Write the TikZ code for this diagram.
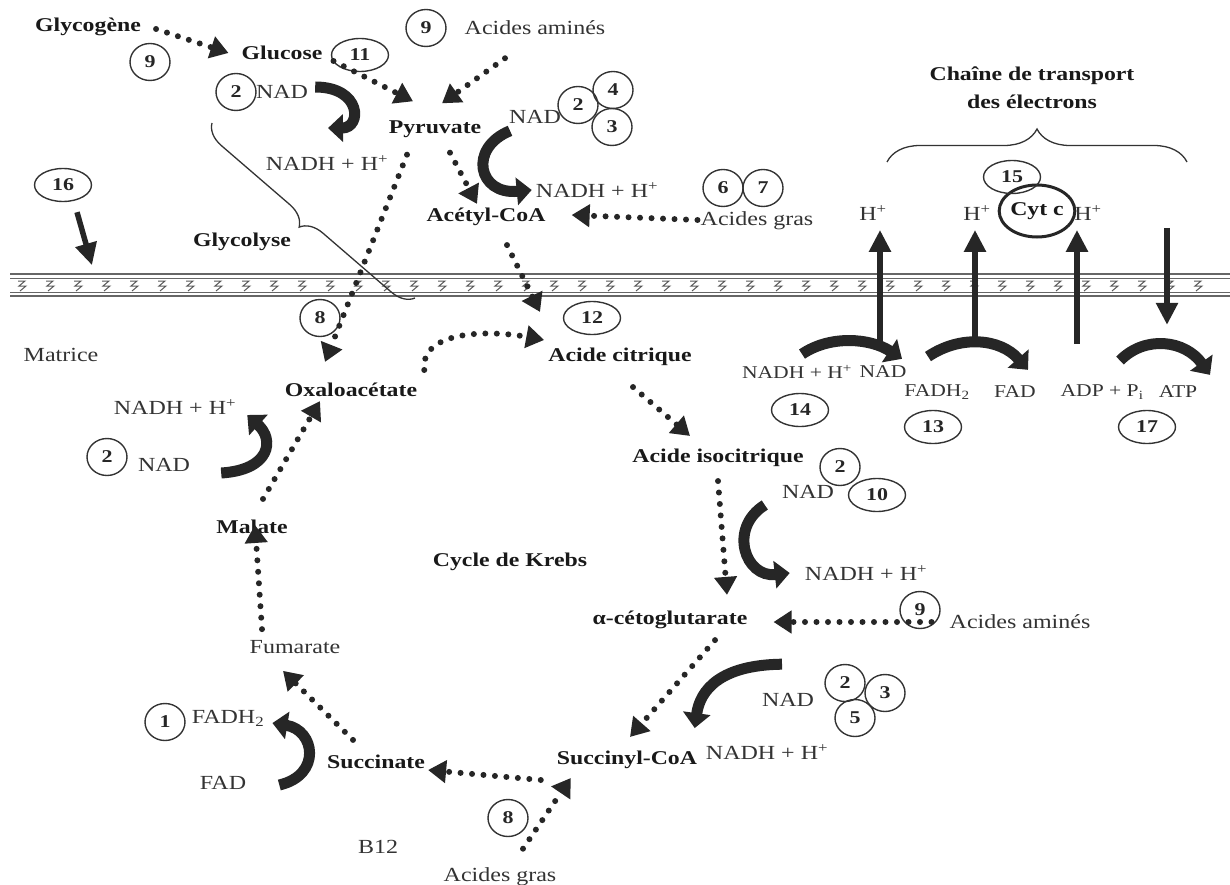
\documentclass[tikz,border=0pt]{standalone}
\usepackage{fontspec}
\newfontfamily\rg{Liberation Serif}[FakeStretch=1.2]
\newfontfamily\bd{Liberation Serif}[FakeStretch=1.22]
\usetikzlibrary{arrows.meta,decorations.pathreplacing,shapes.geometric}
\begin{document}
\begin{tikzpicture}[x=1pt,y=-1pt,
  tx/.style={font=\rg\fontsize{20}{22}\selectfont, text=black!80, inner sep=1pt},
  txs/.style={font=\rg\fontsize{18}{20}\selectfont, text=black!80, inner sep=1pt},
  bx/.style={font=\bd\bfseries\fontsize{19.5}{21}\selectfont, text=black!90, inner sep=1pt},
  nm/.style={draw=black!80, line width=1.4pt, ellipse, inner sep=0pt, minimum width=40pt, minimum height=37pt, font=\bd\bfseries\fontsize{18}{18}\selectfont, text=black!85},
  nmw/.style={nm, minimum width=57pt, minimum height=33pt},
  dotarrow/.style={line width=6pt, line cap=round, dash pattern=on 0pt off 11.5pt, black!85, -{Triangle[width=22pt,length=18pt]}},
  bigarrow/.style={line width=11pt, black!85, -{Triangle[width=27pt,length=15pt]}},
  vertarrow/.style={line width=5.5pt, black!85, -{Triangle[width=21pt,length=22pt]}},
  mem/.style={draw=black!60, line width=1.1pt},
  zig/.style={draw=black!65, line width=1pt}
]
\useasboundingbox (0,0) rectangle (1230,885);

% membrane
\foreach \y in {274,278.5,292.5,296} \draw[mem] (10,\y) -- (1230,\y);
\foreach \x in {22,50,...,1220} \draw[zig] (\x-4,281) -- (\x+3,281) -- (\x-3,286) -- (\x+4,286) -- (\x-2,291);

% bold labels
\node[bx] (glycogene) at (88,27) {Glycogène};
\node[bx] (glucose) at (282,53) {Glucose};
\node[bx] (pyruvate) at (435,129) {Pyruvate};
\node[bx] (acetyl) at (486,217) {Acétyl-CoA};
\node[bx] (glycolyse) at (242,242) {Glycolyse};
\node[bx] (citrique) at (620,357) {Acide citrique};
\node[bx] (oxalo) at (351,390) {Oxaloacétate};
\node[bx] (isocit) at (718,458) {Acide isocitrique};
\node[bx] (malate) at (252,527) {Malate};
\node[bx] (krebs) at (510,562) {Cycle de Krebs};
\node[bx] (aceto) at (670,620) {α-cétoglutarate};
\node[bx] (succoa) at (627,760) {Succinyl-CoA};
\node[bx] (succinate) at (376,762) {Succinate};
\node[bx, align=center] (chaine) at (1032,88) {Chaîne de transport\\[7pt]des électrons};
\node[bx, draw=black!85, line width=3pt, ellipse, minimum width=72pt, minimum height=52pt, inner sep=0pt] (cytc) at (1037,211) {Cyt c};

% regular labels
\node[tx] (aa1) at (535,28) {Acides aminés};
\node[tx] (nad1) at (282,92) {NAD};
\node[tx] (nadh1) at (327,163) {NADH + H\textsuperscript{+}};
\node[tx] (nad2) at (535,117) {NAD};
\node[tx] (nadh2) at (597,190) {NADH + H\textsuperscript{+}};
\node[tx] (ag1) at (757,221) {Acides gras};
\node[tx] (matrice) at (61,355) {Matrice};
\node[tx] (nadh3) at (175,407) {NADH + H\textsuperscript{+}};
\node[tx] (nad3) at (164,465) {NAD};
\node[tx] (nad4) at (808,492) {NAD};
\node[tx] (nadh4) at (866,573) {NADH + H\textsuperscript{+}};
\node[tx] (aa2) at (1020,622) {Acides aminés};
\node[tx] (fumarate) at (295,647) {Fumarate};
\node[tx] (nad5) at (788,700) {NAD};
\node[tx] (nadh5) at (767,752) {NADH + H\textsuperscript{+}};
\node[tx] (fadh) at (228,718) {FADH\textsubscript{2}};
\node[tx] (fad) at (223,783) {FAD};
\node[tx] (b12) at (378,847) {B12};
\node[tx] (ag2) at (500,877) {Acides gras};
\node[tx] (h1) at (873,213) {H\textsuperscript{+}};
\node[tx] (h2) at (977,213) {H\textsuperscript{+}};
\node[tx] (h3) at (1088,213) {H\textsuperscript{+}};
\node[txs] (nadh6) at (797,372) {NADH + H\textsuperscript{+}};
\node[txs] (nad6) at (883,372) {NAD};
\node[txs] (fadh7) at (937,392) {FADH\textsubscript{2}};
\node[txs] (fad7) at (1015,392) {FAD};
\node[txs] (adp) at (1102,392) {ADP + P\textsubscript{i}};
\node[txs] (atp) at (1178,392) {ATP};

% numbers
\node[nm] (n9a) at (150,62) {9};
\node[nmw] (n11) at (360,55) {11};
\node[nm] (n2a) at (236,92) {2};
\node[nm] (n9b) at (426,28) {9};
\node[nm] (n2b) at (578,105) {2};
\node[nm] (n4) at (613,90) {4};
\node[nm] (n3a) at (612,127) {3};
\node[nm] (n6) at (723,188) {6};
\node[nm] (n7) at (763,188) {7};
\node[nmw] (n16) at (63,185) {16};
\node[nm] (n8a) at (320,318) {8};
\node[nmw] (n12) at (592,318) {12};
\node[nmw] (n15) at (1012,177) {15};
\node[nmw] (n14) at (800,410) {14};
\node[nmw] (n13) at (933,427) {13};
\node[nmw] (n17) at (1147,427) {17};
\node[nm] (n2c) at (107,457) {2};
\node[nm] (n2d) at (840,467) {2};
\node[nmw] (n10) at (877,495) {10};
\node[nm] (n9c) at (920,610) {9};
\node[nm] (n2e) at (845,683) {2};
\node[nm] (n3b) at (885,693) {3};
\node[nm] (n5) at (855,718) {5};
\node[nm] (n1) at (165,722) {1};
\node[nm] (n8b) at (508,818) {8};

% dotted pathways
\draw[dotarrow] ([shift={(14,2)}]glycogene.east) -- ([shift={(-12,0)}]glucose.west);
\draw[dotarrow] ([shift={(10,8)}]glucose.east) -- ([shift={(-22,-18)}]pyruvate.north);
\draw[dotarrow] ([shift={(-30,22)}]aa1.south) -- ([shift={(7,-16)}]pyruvate.north);
\draw[dotarrow] ([shift={(15,14)}]pyruvate.south) -- ([shift={(-9,-3)}]acetyl.north);
\draw[dotarrow] ([shift={(-2,-1)}]ag1.west) -- ([shift={(25,-2)}]acetyl.east);
\draw[dotarrow] ([shift={(-28,16)}]pyruvate.south) -- ([shift={(-26,-20)}]oxalo.north);
\draw[dotarrow] ([shift={(21,18)}]acetyl.south) -- ([shift={(-80,-35)}]citrique.north);
\draw[dotarrow] ([shift={(6,-20)}]oxalo.east) .. controls (420,330) and (490,330) .. ([shift={(-3,-17)}]citrique.west);
\draw[dotarrow] ([shift={(13,20)}]citrique.south) -- ([shift={(-28,-12)}]isocit.north);
\draw[dotarrow] ([shift={(0,13)}]isocit.south) -- ([shift={(57,-15)}]aceto.north);
\draw[dotarrow] ([shift={(-17,0)}]aa2.west) -- ([shift={(25,2)}]aceto.east);
\draw[dotarrow] ([shift={(45,10)}]aceto.south) -- ([shift={(3,-13)}]succoa.north);
\draw[dotarrow] ([shift={(-15,20)}]succoa.west) -- ([shift={(2,8)}]succinate.east);
\draw[dotarrow] ([shift={(23,-18)}]ag2.north) -- ([shift={(15,18)}]succoa.west);
\draw[dotarrow] ([shift={(-23,-14)}]succinate.north) -- ([shift={(-12,16)}]fumarate.south);
\draw[dotarrow] ([shift={(-33,-10)}]fumarate.north) -- ([shift={(3,6)}]malate.north);
\draw[dotarrow] ([shift={(11,-20)}]malate.north) -- ([shift={(-31,3)}]oxalo.south);

% curved cofactor arrows
\draw[bigarrow] ([shift={(6,-5)}]nad1.east) .. controls (362,87) and (362,128) .. ([shift={(1,-26)}]nadh1.north);
\draw[bigarrow] ([shift={(-25,6)}]nad2.south) .. controls (468,148) and (478,195) .. ([shift={(-3,0)}]nadh2.west);
\draw[bigarrow] ([shift={(30,8)}]nad3.east) .. controls (270,470) and (275,440) .. ([shift={(10,8)}]nadh3.east);
\draw[bigarrow] ([shift={(32,2)}]fad.east) .. controls (322,775) and (315,730) .. ([shift={(7,5)}]fadh.east);
\draw[bigarrow] ([shift={(-16,13)}]nad4.west) .. controls (728,528) and (745,578) .. ([shift={(-14,0)}]nadh4.west);
\draw[bigarrow] ([shift={(-6,-28)}]nad5.north) .. controls (720,665) and (700,690) .. ([shift={(-10,-15)}]nadh5.north west);
\draw[bigarrow] ([shift={(5,-10)}]nadh6.north) .. controls (830,335) and (870,338) .. ([shift={(19,-6)}]nad6.north);
\draw[bigarrow] ([shift={(-9,-27)}]fadh7.north) .. controls (960,335) and (1000,338) .. ([shift={(13,-15)}]fad7.north);
\draw[bigarrow] ([shift={(18,-23)}]adp.north) .. controls (1145,335) and (1185,340) .. ([shift={(32,-10)}]atp.north);

% proton pumps and ATP synthase
\draw[vertarrow] ([shift={(7,122)}]h1.south) -- ([shift={(7,8)}]h1.south);
\draw[vertarrow] ([shift={(-2,122)}]h2.south) -- ([shift={(-2,8)}]h2.south);
\draw[vertarrow] ([shift={(-11,122)}]h3.south) -- ([shift={(-11,8)}]h3.south);
\coordinate (synTop) at (1167,228);
\draw[vertarrow] (synTop) -- ([shift={(0,-60)}]atp.north -| synTop);

% signal 16
\draw[vertarrow] ([shift={(14,10)}]n16.south) -- ([shift={(29,63)}]n16.south);

% braces
\coordinate (gbA) at (415,298);
\coordinate (gbB) at (212,123);
\draw[black!80, line width=1.3pt, decorate, decoration={brace, amplitude=22pt}] (gbA) -- (gbB);
\coordinate (cbA) at (887,162);
\coordinate (cbB) at (1187,162);
\draw[black!80, line width=1.3pt, decorate, decoration={brace, amplitude=33pt}] (cbA) -- (cbB);
\end{tikzpicture}
\end{document}
